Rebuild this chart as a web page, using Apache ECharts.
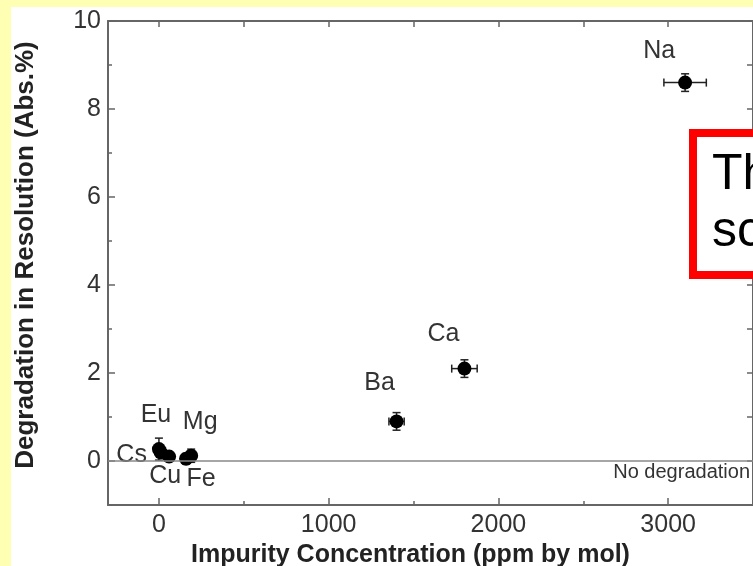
<!DOCTYPE html>
<html>
<head>
<meta charset="utf-8">
<script src="https://cdn.jsdelivr.net/npm/echarts@6/dist/echarts.min.js"></script>
<style>
  html, body { margin: 0; padding: 0; }
  #chart { width: 753px; height: 566px; }
</style>
</head>
<body>
<div id="chart"></div>
<script>
// values
const elements = ['Na', 'Ca', 'Ba', 'Eu', 'Mg', 'Cs', 'Cu', 'Fe']
const concentration = [3100, 1800, 1400, 0, 190, 10, 60, 160]
const degradation = [8.6, 2.1, 0.9, 0.27, 0.12, 0.2, 0.1, 0.05]
const concError = [125, 75, 45, 15, 20, 15, 15, 20]
const degError = [0.2, 0.2, 0.2, 0.25, 0.15, 0.12, 0.1, 0.12]
const xMajorTicks = [0, 1000, 2000, 3000]
const xMinorTicks = [500, 1500, 2500, 3500]
const yMajorTicks = [0, 2, 4, 6, 8, 10]
const yMinorTicks = [-1, 1, 3, 5, 7, 9]

// where each element label sits relative to its point (px)
const labelOffset = {
  Na: [-26, -31], Ca: [-21, -34], Ba: [-17, -38], Eu: [-3, -34],
  Mg: [9, -34], Cs: [-29, 3], Cu: [-4, 20], Fe: [15, 20]
}

const axisColor = '#666'
const font = 'Liberation Sans, Arial, sans-serif'

const chart = echarts.init(document.getElementById('chart'))

const pointData = elements.map((name, i) => ({
  name,
  value: [concentration[i], degradation[i]],
  label: { offset: labelOffset[name] }
}))
const errorData = elements.map((name, i) => [concentration[i], degradation[i], concError[i], degError[i]])

function tickAxis(extra) {
  return Object.assign({
    type: 'value',
    axisLine: { show: false, onZero: false },
    axisLabel: { show: false },
    splitLine: { show: false },
    axisTick: { show: false }
  }, extra)
}

chart.setOption({
  backgroundColor: '#FFFFB4',
  animation: false,
  textStyle: { fontFamily: font },
  graphic: [
    { type: 'rect', z: -10, shape: { x: 11, y: 7, width: 760, height: 580 }, style: { fill: '#fff' } },
    { type: 'text', right: 3, top: 462, z: 5,
      style: { text: 'No degradation', font: '20px ' + font, fill: '#333' } },
    { type: 'rect', z: 20, shape: { x: 693, y: 133, width: 80, height: 142 },
      style: { fill: '#fff', stroke: '#f00', lineWidth: 8 } },
    { type: 'text', z: 21, x: 712, y: 175,
      style: { text: 'Th', font: '50px ' + font, fill: '#000', verticalAlign: 'middle' } },
    { type: 'text', z: 21, x: 712, y: 232,
      style: { text: 'sc', font: '50px ' + font, fill: '#000', verticalAlign: 'middle' } }
  ],
  grid: { left: 108, top: 21, right: 0, bottom: 61, outerBoundsMode: 'none' },
  xAxis: [
    {
      type: 'value', min: -300, max: 3500, position: 'bottom',
      name: 'Impurity Concentration (ppm by mol)',
      nameLocation: 'middle', nameGap: 33,
      nameTextStyle: { fontSize: 25, fontWeight: 'bold', color: '#222', padding: [0, 40, 0, 0] },
      axisLine: { onZero: false, lineStyle: { color: axisColor, width: 2 } },
      axisTick: { inside: true, length: 7, customValues: xMajorTicks, lineStyle: { color: axisColor, width: 1.5 } },
      axisLabel: { customValues: xMajorTicks, fontSize: 25, color: '#333', margin: 8, formatter: v => String(v) },
      splitLine: { show: false }
    },
    tickAxis({
      min: -300, max: 3500, position: 'bottom',
      axisTick: { show: true, inside: true, length: 4, customValues: xMinorTicks, lineStyle: { color: axisColor, width: 1.5 } }
    }),
    tickAxis({
      min: -300, max: 3500, position: 'top',
      axisLine: { show: true, onZero: false, lineStyle: { color: axisColor, width: 2 } },
      axisTick: { show: true, inside: true, length: 6, customValues: xMajorTicks.concat(xMinorTicks), lineStyle: { color: axisColor, width: 1.5 } }
    })
  ],
  yAxis: [
    {
      type: 'value', min: -1, max: 10, position: 'left',
      name: 'Degradation in Resolution (Abs.%)',
      nameLocation: 'middle', nameGap: 69,
      nameTextStyle: { fontSize: 26, fontWeight: 'bold', color: '#222', padding: [0, 0, 0, 16] },
      axisLine: { show: true, onZero: false, lineStyle: { color: axisColor, width: 2 } },
      axisTick: { show: true, inside: true, length: 7, customValues: yMajorTicks, lineStyle: { color: axisColor, width: 1.5 } },
      axisLabel: { customValues: yMajorTicks, fontSize: 25, color: '#333', margin: 7 },
      splitLine: { show: false }
    },
    tickAxis({
      min: -1, max: 10, position: 'left',
      axisTick: { show: true, inside: true, length: 4, customValues: yMinorTicks, lineStyle: { color: axisColor, width: 1.5 } }
    }),
    tickAxis({
      min: -1, max: 10, position: 'right',
      axisLine: { show: true, onZero: false, lineStyle: { color: axisColor, width: 2 } },
      axisTick: { show: true, inside: true, length: 6, customValues: yMajorTicks.concat(yMinorTicks), lineStyle: { color: axisColor, width: 1.5 } }
    })
  ],
  series: [
    {
      type: 'custom',
      name: 'error',
      z: 3,
      data: errorData,
      renderItem: function(params, api) {
        const x = api.value(0)
        const y = api.value(1)
        const ex = api.value(2)
        const ey = api.value(3)
        const l = api.coord([x - ex, y])
        const r = api.coord([x + ex, y])
        const t = api.coord([x, y + ey])
        const b = api.coord([x, y - ey])
        const cap = 4
        const style = { stroke: '#222', lineWidth: 1.5 }
        return {
          type: 'group',
          children: [
            { type: 'line', shape: { x1: l[0], y1: l[1], x2: r[0], y2: r[1] }, style },
            { type: 'line', shape: { x1: l[0], y1: l[1] - cap, x2: l[0], y2: l[1] + cap }, style },
            { type: 'line', shape: { x1: r[0], y1: r[1] - cap, x2: r[0], y2: r[1] + cap }, style },
            { type: 'line', shape: { x1: t[0], y1: t[1], x2: b[0], y2: b[1] }, style },
            { type: 'line', shape: { x1: t[0] - cap, y1: t[1], x2: t[0] + cap, y2: t[1] }, style },
            { type: 'line', shape: { x1: b[0] - cap, y1: b[1], x2: b[0] + cap, y2: b[1] }, style }
          ]
        }
      }
    },
    {
      type: 'scatter',
      name: 'impurity',
      z: 4,
      symbol: 'circle',
      symbolSize: 14,
      itemStyle: { color: '#000', opacity: 1 },
      label: {
        show: true,
        position: 'inside',
        formatter: '{b}',
        fontSize: 25,
        color: '#333',
        align: 'center',
        verticalAlign: 'middle'
      },
      data: pointData,
      markLine: {
        silent: true,
        symbol: 'none',
        label: { show: false },
        lineStyle: { color: '#888', width: 1.5, type: 'solid' },
        data: [{ yAxis: 0 }]
      }
    }
  ]
})
</script>
</body>
</html>
